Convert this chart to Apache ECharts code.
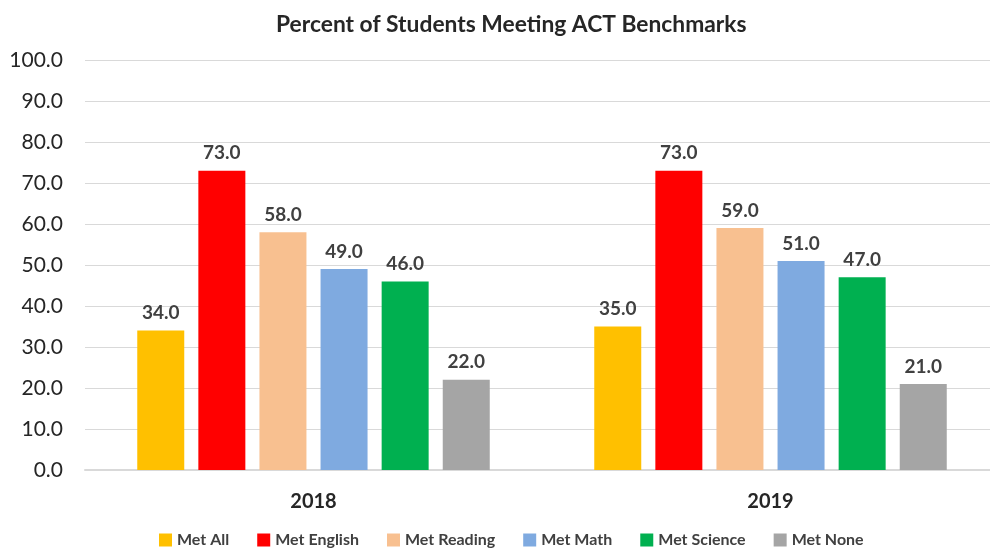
<!DOCTYPE html>
<html>
<head>
<meta charset="utf-8">
<script src="https://cdn.jsdelivr.net/npm/echarts@6/dist/echarts.min.js"></script>
<style>
  html, body { margin: 0; padding: 0; background: #fff; }
  #chart { width: 990px; height: 550px; }
</style>
</head>
<body>
<div id="chart"></div>
<script>
// data
const years = ['2018', '2019']
const seriesNames = ['Met All', 'Met English', 'Met Reading', 'Met Math', 'Met Science', 'Met None']
const metAll = [34.0, 35.0]
const metEnglish = [73.0, 73.0]
const metReading = [58.0, 59.0]
const metMath = [49.0, 51.0]
const metScience = [46.0, 47.0]
const metNone = [22.0, 21.0]
const colors = ['#ffc000', '#ff0000', '#f8c090', '#7faae0', '#00b050', '#a5a5a5']

const font = 'Lato, "Open Sans", sans-serif'
const allValues = [metAll, metEnglish, metReading, metMath, metScience, metNone]

const chart = echarts.init(document.getElementById('chart'))

const series = seriesNames.map((name, i) => ({
  name: name,
  type: 'bar',
  data: allValues[i],
  barWidth: 47,
  barGap: '30%',
  itemStyle: { color: colors[i] },
  label: {
    show: true,
    position: 'top',
    distance: 8,
    formatter: p => p.value.toFixed(1),
    color: '#404040',
    fontFamily: font,
    fontWeight: 'bold',
    fontSize: 19
  }
}))

chart.setOption({
  animation: false,
  textStyle: { fontFamily: font },
  title: {
    text: 'Percent of Students Meeting ACT Benchmarks',
    left: 271,
    top: 8,
    textStyle: { fontFamily: font, fontWeight: 'bold', fontSize: 22.8, color: '#262626' }
  },
  color: colors,
  legend: {
    data: seriesNames,
    top: 527,
    left: 154,
    icon: 'rect',
    itemWidth: 13,
    itemHeight: 13,
    itemGap: 28,
    textStyle: { fontFamily: font, fontWeight: 'bold', fontSize: 16, color: '#404040' }
  },
  grid: { left: 85, top: 60, width: 914, height: 410, outerBoundsMode: 'none', containLabel: false },
  xAxis: {
    type: 'category',
    data: years,
    axisTick: { show: false },
    axisLine: { lineStyle: { color: '#d9d9d9', width: 2 } },
    axisLabel: {
      margin: 22,
      fontFamily: font,
      fontWeight: 'bold',
      fontSize: 20,
      color: '#262626'
    }
  },
  yAxis: {
    type: 'value',
    min: 0,
    max: 100,
    interval: 10,
    axisLine: { show: false },
    axisTick: { show: false },
    splitLine: { lineStyle: { color: '#d9d9d9', width: 1 } },
    axisLabel: {
      margin: 22,
      formatter: v => v.toFixed(1),
      fontFamily: font,
      fontSize: 21,
      color: '#262626'
    }
  },
  series: series
})
</script>
</body>
</html>
